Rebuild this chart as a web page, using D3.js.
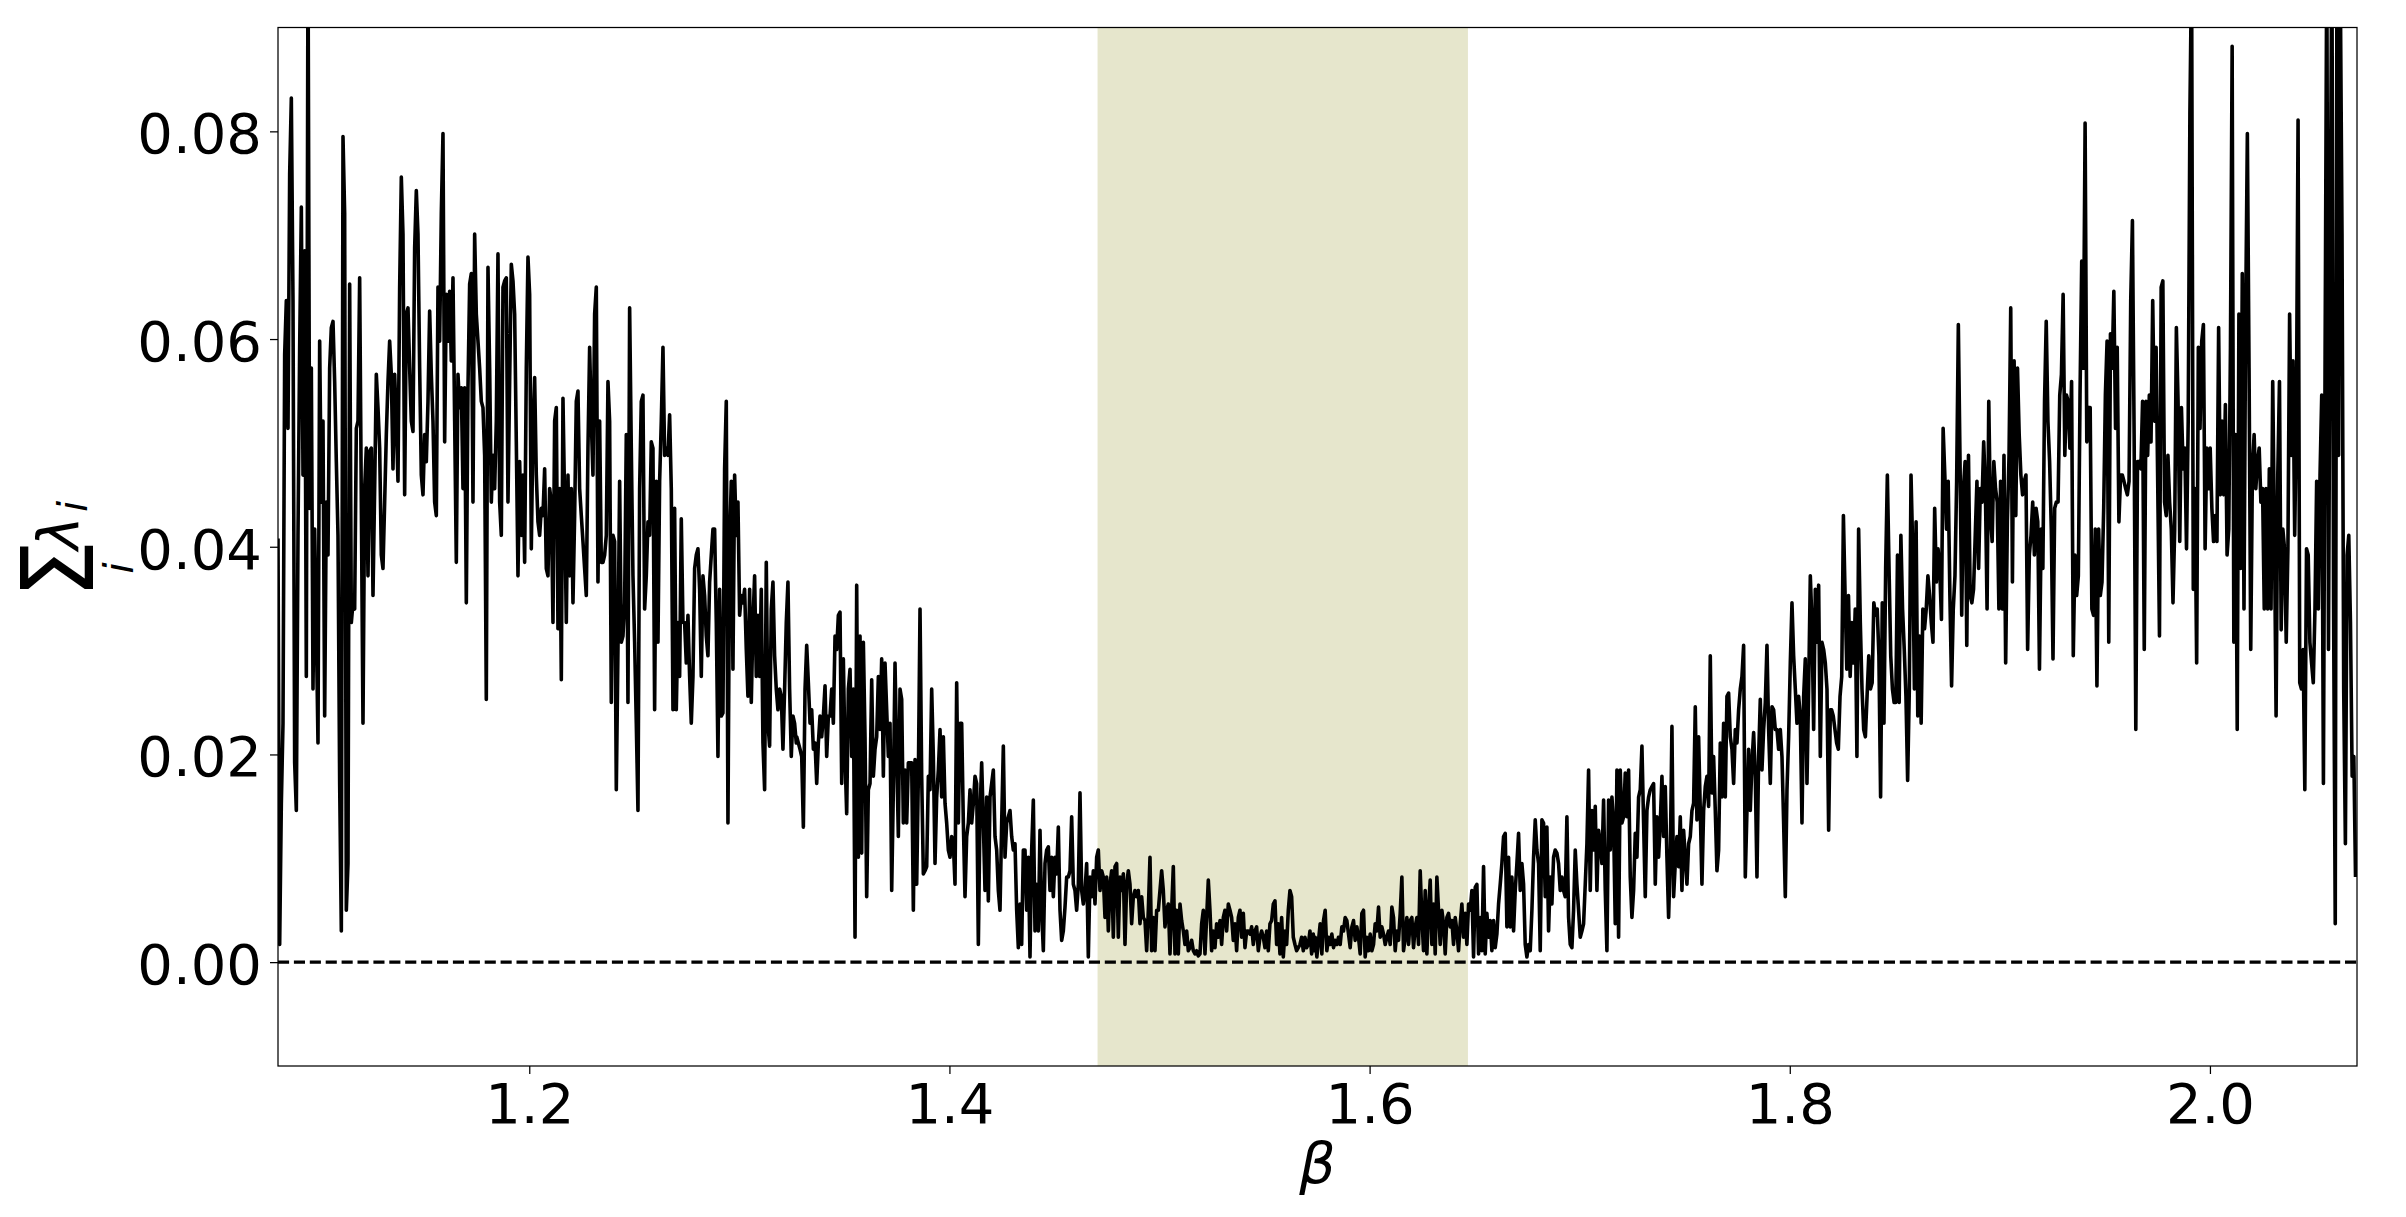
<!DOCTYPE html>
<html>
<head>
<meta charset="utf-8">
<script src="https://cdn.jsdelivr.net/npm/d3@7"></script>
<style>
html, body { margin: 0; padding: 0; background: #fff; }
svg { display: block; font-family: "DejaVu Sans", sans-serif; }
</style>
</head>
<body>
<div id="myDiv"></div>
<script>
// sum of lambda_i, in four consecutive beta ranges
var lambdaA = [
0.0408,0.0017,0.0153,0.0230,0.0585,0.0637,0.0514,0.0759,0.0832,0.0637,
0.0192,0.0146,0.0411,0.0592,0.0727,0.0469,0.0685,0.0275,0.0980,0.0437,
0.0572,0.0263,0.0417,0.0321,0.0211,0.0598,0.0443,0.0521,0.0237,0.0443,
0.0392,0.0572,0.0611,0.0617,0.0559,0.0482,0.0411,0.0172,0.0030,0.0795,
0.0721,0.0050,0.0095,0.0653,0.0327,0.0346,0.0340,0.0514,0.0521,0.0659,
0.0443,0.0230,0.0456,0.0495,0.0372,0.0492,0.0495,0.0353,0.0456,0.0566,
0.0534,0.0495,0.0392,0.0379,0.0443,0.0508,0.0559,0.0598,0.0566,0.0475,
0.0566,0.0521,0.0463,0.0650,0.0756,0.0701,0.0450,0.0624,0.0630,0.0572,
0.0521,0.0511,0.0688,0.0743,0.0701,0.0572,0.0469,0.0450,0.0508,0.0482,
0.0540,0.0627,0.0566,0.0521,0.0443,0.0430,0.0650,0.0598,0.0721,0.0798,
0.0501,0.0643,0.0598,0.0646,0.0579,0.0659,0.0521,0.0385,0.0566,0.0534,
0.0553,0.0456,0.0553,0.0346,0.0553,0.0653,0.0663,0.0443,0.0701,0.0624,
0.0598,0.0572,0.0540,0.0534,0.0488,0.0253,0.0669,0.0572,0.0443,0.0488,
0.0456,0.0521,0.0682,0.0443,0.0411,0.0650,0.0656,0.0659,0.0443,0.0559,
0.0672,0.0656,0.0624,0.0501,0.0372,0.0482,0.0411,0.0469,0.0385,0.0572,
0.0679,0.0643,0.0398,0.0514,0.0563,0.0469,0.0424,0.0411,0.0437,0.0430,
0.0475,0.0379,0.0372,0.0456,0.0443,0.0327,0.0521,0.0534,0.0321,0.0456,
0.0272,0.0543,0.0443,0.0327,0.0469,0.0372,0.0456,0.0346,0.0430,0.0540,
0.0550,0.0456,0.0430,0.0405,0.0379,0.0353,0.0495,0.0592,0.0521,0.0469,
0.0624,0.0650,0.0366,0.0521,0.0385,0.0385,0.0392,0.0411,0.0559,0.0521,
0.0250,0.0411,0.0405,0.0166,0.0301,0.0463,0.0308,0.0314,0.0346,0.0508,
0.0250,0.0630,0.0495,0.0372,0.0308,0.0230,0.0146,0.0456,0.0540,0.0546,
0.0340,0.0372,0.0424,0.0411,0.0501,0.0495,0.0243,0.0463,0.0308,0.0463,
0.0521,0.0592,0.0488,0.0495,0.0488,0.0527,0.0456,0.0243,0.0437,0.0243,
0.0327,0.0275,0.0427,0.0327,0.0327,0.0288,0.0334,0.0275,0.0230,0.0275,
0.0379,0.0392,0.0398,0.0359,0.0275,0.0372,0.0353,0.0314,0.0295,0.0366,
0.0392,0.0417,0.0417,0.0327,0.0198,0.0359,0.0237,0.0240,0.0475,0.0540,
0.0134,0.0405,0.0463,0.0282,0.0469,0.0411,0.0443,0.0334,0.0353,0.0346,
0.0359,0.0301,0.0256,0.0359,0.0250,0.0327,0.0372,0.0275,0.0334,0.0275,
0.0359,0.0211,0.0166,0.0385,0.0230,0.0208,0.0340,0.0366,0.0295,0.0263,
0.0243,0.0263,0.0256,0.0205,0.0263,0.0327,0.0366,0.0263,0.0198,0.0237,
0.0230,0.0211];

var lambdaB = [
0.0217,0.0211,0.0205,0.0198,0.0130,0.0263,0.0305,0.0269,0.0230,0.0243,
0.0205,0.0211,0.0172,0.0211,0.0237,0.0217,0.0237,0.0266,0.0198,0.0237,
0.0237,0.0263,0.0230,0.0314,0.0301,0.0334,0.0337,0.0172,0.0292,0.0198,
0.0143,0.0263,0.0282,0.0198,0.0263,0.0024,0.0363,0.0101,0.0314,0.0105,
0.0308,0.0217,0.0063,0.0166,0.0172,0.0272,0.0179,0.0205,0.0217,0.0275,
0.0224,0.0292,0.0179,0.0288,0.0243,0.0198,0.0230,0.0069,0.0166,0.0288,
0.0201,0.0121,0.0263,0.0253,0.0134,0.0185,0.0134,0.0192,0.0192,0.0192,
0.0050,0.0195,0.0075,0.0179,0.0340,0.0179,0.0085,0.0088,0.0092,0.0179,
0.0166,0.0263,0.0198,0.0095,0.0159,0.0185,0.0224,0.0159,0.0217,0.0153,
0.0134,0.0108,0.0101,0.0121,0.0114,0.0075,0.0269,0.0134,0.0230,0.0230,
0.0134,0.0063,0.0121,0.0134,0.0166,0.0134,0.0153,0.0179,0.0172,0.0017,
0.0143,0.0192,0.0134,0.0069,0.0159,0.0059,0.0159,0.0172,0.0185,0.0121,
0.0108,0.0069,0.0050,0.0134,0.0208,0.0101,0.0134,0.0140,0.0146,0.0121,
0.0108,0.0114,0.0050,0.0014,0.0056,0.0017,0.0108,0.0108,0.0050,0.0101,
0.0005,0.0108,0.0156,0.0030,0.0075,0.0030,0.0127,0.0050,0.0011,0.0095,
0.0108,0.0111,0.0069,0.0101,0.0063,0.0101,0.0085,0.0130,0.0050,0.0021,
0.0030,0.0053,0.0082,0.0082,0.0088,0.0140,0.0075,0.0069,0.0050,0.0075,
0.0163,0.0069,0.0056,0.0069,0.0095,0.0005,0.0082,0.0063,0.0088,0.0056,
0.0101,0.0108,0.0069,0.0088,0.0082,0.0043,0.0082,0.0030,0.0075,0.0088,
0.0024,0.0092,0.0095,0.0024,0.0082,0.0069,0.0085,0.0017,0.0075,0.0088,
0.0075,0.0037,0.0063,0.0069,0.0063,0.0069,0.0037,0.0063,0.0043,0.0040,
0.0011,0.0050,0.0101,0.0011,0.0043,0.0011,0.0050,0.0050,0.0069,0.0088,
0.0069,0.0034,0.0050,0.0056,0.0008,0.0050,0.0092,0.0008,0.0050,0.0008,
0.0056,0.0040,0.0030,0.0017,0.0030,0.0011,0.0014,0.0021,0.0011,0.0008,
0.0011,0.0006,0.0008,0.0037,0.0050,0.0008,0.0043,0.0079,0.0050,0.0011,
0.0030,0.0014,0.0037,0.0024,0.0040,0.0017,0.0043,0.0050,0.0030,0.0056,
0.0050,0.0043,0.0021,0.0037,0.0011,0.0043,0.0050,0.0024,0.0047,0.0014,
0.0030,0.0030,0.0027,0.0034,0.0017,0.0030,0.0034,0.0011,0.0024,0.0030,
0.0024,0.0014,0.0030,0.0011,0.0037,0.0040,0.0056,0.0059,0.0017,0.0037,
0.0008,0.0043,0.0005,0.0030,0.0017,0.0050,0.0069,0.0063,0.0024,0.0017,
0.0011,0.0014,0.0017,0.0024,0.0011,0.0024,0.0014,0.0017,0.0030,0.0008,
0.0027];

var lambdaC = [
0.0011,0.0024,0.0005,0.0021,0.0037,0.0008,0.0040,0.0050,0.0011,0.0024,
0.0017,0.0027,0.0014,0.0021,0.0017,0.0024,0.0017,0.0034,0.0030,0.0043,
0.0040,0.0027,0.0014,0.0034,0.0040,0.0021,0.0034,0.0024,0.0008,0.0047,
0.0050,0.0005,0.0024,0.0011,0.0027,0.0011,0.0017,0.0037,0.0030,0.0053,
0.0024,0.0034,0.0027,0.0017,0.0024,0.0030,0.0017,0.0053,0.0043,0.0011,
0.0030,0.0021,0.0047,0.0082,0.0011,0.0024,0.0043,0.0017,0.0040,0.0043,
0.0014,0.0034,0.0043,0.0017,0.0088,0.0043,0.0011,0.0069,0.0008,0.0050,
0.0079,0.0017,0.0056,0.0008,0.0082,0.0050,0.0017,0.0050,0.0037,0.0008,
0.0043,0.0047,0.0034,0.0040,0.0017,0.0043,0.0030,0.0011,0.0037,0.0056,
0.0024,0.0047,0.0017,0.0056,0.0050,0.0069,0.0005,0.0072,0.0075,0.0008,
0.0043,0.0011,0.0092,0.0008,0.0047,0.0024,0.0040,0.0011,0.0040,0.0014,
0.0027,0.0056,0.0075,0.0095,0.0121,0.0124,0.0034,0.0101,0.0034,0.0082,
0.0030,0.0069,0.0095,0.0124,0.0069,0.0095,0.0075,0.0017,0.0005,0.0017,
0.0011,0.0050,0.0101,0.0137,0.0108,0.0095,0.0011,0.0137,0.0134,0.0063,
0.0130,0.0030,0.0082,0.0056,0.0101,0.0108,0.0105,0.0095,0.0069,0.0082,
0.0069,0.0063,0.0140,0.0043,0.0017,0.0014,0.0050,0.0108,0.0075,0.0050,
0.0024,0.0030,0.0037,0.0075,0.0114,0.0185,0.0069,0.0146,0.0108,0.0150,
0.0069,0.0127,0.0114,0.0095,0.0156,0.0069,0.0011,0.0156,0.0108,0.0159,
0.0134,0.0037,0.0185,0.0024,0.0185,0.0134,0.0140,0.0182,0.0140,0.0185,
0.0082,0.0043,0.0069,0.0124,0.0101,0.0159,0.0166,0.0208,0.0134,0.0063,
0.0146,0.0159,0.0166,0.0169,0.0172,0.0075,0.0140,0.0101,0.0134,0.0179,
0.0121,0.0169,0.0101,0.0043,0.0101,0.0227,0.0063,0.0095,0.0121,0.0092,
0.0140,0.0069,0.0127,0.0101,0.0075,0.0114,0.0121,0.0146,0.0153,0.0246,
0.0137,0.0217,0.0146,0.0075,0.0146,0.0169,0.0179,0.0150,0.0295,0.0163,
0.0198,0.0146,0.0088,0.0108,0.0211,0.0159,0.0230,0.0159,0.0256,0.0259,
0.0217,0.0205,0.0172,0.0224,0.0211,0.0243,0.0263,0.0275,0.0305,0.0082,
0.0146,0.0205,0.0146,0.0192,0.0221,0.0179,0.0082,0.0198,0.0253,0.0185,
0.0224,0.0250,0.0305,0.0224,0.0172,0.0246,0.0243,0.0224,0.0224,0.0205,
0.0224,0.0198,0.0134,0.0063,0.0166,0.0217,0.0288,0.0346,0.0295,0.0263,
0.0230,0.0256,0.0237,0.0134,0.0256,0.0292,0.0172,0.0263,0.0372,0.0327,
0.0224,0.0359,0.0308,0.0363,0.0198,0.0308,0.0301,0.0288,0.0263,0.0127,
0.0243];

var lambdaD = [
0.0243,0.0237,0.0224,0.0211,0.0205,0.0256,0.0275,0.0430,0.0353,0.0282,
0.0353,0.0275,0.0327,0.0288,0.0340,0.0198,0.0417,0.0327,0.0263,0.0224,
0.0217,0.0256,0.0295,0.0263,0.0269,0.0346,0.0334,0.0340,0.0295,0.0159,
0.0346,0.0230,0.0379,0.0469,0.0379,0.0295,0.0263,0.0250,0.0250,0.0392,
0.0250,0.0411,0.0340,0.0301,0.0256,0.0175,0.0263,0.0469,0.0398,0.0263,
0.0424,0.0237,0.0314,0.0230,0.0340,0.0321,0.0340,0.0372,0.0353,0.0327,
0.0308,0.0437,0.0366,0.0398,0.0379,0.0330,0.0514,0.0469,0.0417,0.0463,
0.0353,0.0266,0.0340,0.0372,0.0463,0.0614,0.0482,0.0334,0.0456,0.0482,
0.0305,0.0488,0.0353,0.0346,0.0359,0.0411,0.0463,0.0379,0.0456,0.0443,
0.0501,0.0456,0.0340,0.0540,0.0430,0.0405,0.0482,0.0456,0.0443,0.0340,
0.0463,0.0340,0.0488,0.0288,0.0424,0.0488,0.0630,0.0366,0.0579,0.0430,
0.0572,0.0508,0.0469,0.0450,0.0463,0.0469,0.0301,0.0392,0.0411,0.0443,
0.0392,0.0437,0.0424,0.0282,0.0417,0.0379,0.0540,0.0617,0.0521,0.0482,
0.0417,0.0292,0.0437,0.0443,0.0443,0.0546,0.0566,0.0643,0.0488,0.0546,
0.0540,0.0495,0.0559,0.0295,0.0392,0.0353,0.0372,0.0546,0.0675,0.0572,
0.0808,0.0501,0.0534,0.0534,0.0340,0.0334,0.0417,0.0266,0.0417,0.0353,
0.0366,0.0437,0.0546,0.0598,0.0308,0.0605,0.0572,0.0646,0.0514,0.0592,
0.0424,0.0469,0.0469,0.0463,0.0456,0.0450,0.0463,0.0637,0.0714,0.0508,
0.0224,0.0482,0.0482,0.0475,0.0540,0.0301,0.0540,0.0488,0.0546,0.0501,
0.0637,0.0521,0.0592,0.0456,0.0314,0.0650,0.0656,0.0443,0.0430,0.0488,
0.0443,0.0417,0.0346,0.0417,0.0611,0.0540,0.0405,0.0534,0.0475,0.0495,
0.0398,0.0521,0.0817,0.0960,0.0359,0.0456,0.0288,0.0592,0.0514,0.0598,
0.0614,0.0398,0.0495,0.0456,0.0495,0.0437,0.0405,0.0430,0.0405,0.0611,
0.0450,0.0521,0.0450,0.0537,0.0392,0.0417,0.0592,0.0882,0.0308,0.0508,
0.0224,0.0624,0.0379,0.0663,0.0340,0.0624,0.0798,0.0572,0.0301,0.0475,
0.0508,0.0456,0.0482,0.0495,0.0443,0.0456,0.0340,0.0456,0.0340,0.0475,
0.0340,0.0559,0.0417,0.0237,0.0469,0.0559,0.0320,0.0417,0.0398,0.0308,
0.0398,0.0624,0.0488,0.0579,0.0411,0.0521,0.0811,0.0269,0.0263,0.0301,
0.0166,0.0398,0.0392,0.0308,0.0288,0.0269,0.0340,0.0463,0.0340,0.0469,
0.0546,0.0172,0.0585,0.0980,0.0301,0.0675,0.0990,0.0346,0.0037,0.0970,
0.0488,0.0940,0.0701,0.0263,0.0114,0.0392,0.0411,0.0327,0.0179,0.0198,
0.0082];

// beta range covered by each array (first and last sample)
var segments = [
  {from: 1.0804, to: 1.3271, values: lambdaA},
  {from: 1.3273, to: 1.5732, values: lambdaB},
  {from: 1.5733, to: 1.8193, values: lambdaC},
  {from: 1.8199, to: 2.0693, values: lambdaD}
];

var betaTicks = [1.2, 1.4, 1.6, 1.8, 2.0];
var lambdaTicks = [0.00, 0.02, 0.04, 0.06, 0.08];
var stableBand = [1.4705, 1.6468];

var data = [];
segments.forEach(function(s) {
  var n = s.values.length;
  s.values.forEach(function(v, i) {
    data.push({beta: s.from + i * (s.to - s.from) / (n - 1), lambda: v});
  });
});

var width = 2406, height = 1217;
var margin = {top: 27.5, right: 49, bottom: 151, left: 278};
var w = width - margin.left - margin.right;
var h = height - margin.top - margin.bottom;

var svg = d3.select("#myDiv").append("svg")
    .attr("width", width)
    .attr("height", height);

var g = svg.append("g")
    .attr("transform", "translate(" + margin.left + "," + margin.top + ")");

var x = d3.scaleLinear().domain([1.0804, 2.07]).range([0, w]);
var y = d3.scaleLinear().domain([-0.01, 0.09]).range([h, 0]);

svg.append("defs").append("clipPath")
    .attr("id", "plotClip")
  .append("rect")
    .attr("width", w)
    .attr("height", h);

// shaded beta window
g.append("rect")
    .attr("x", x(stableBand[0]))
    .attr("y", 0)
    .attr("width", x(stableBand[1]) - x(stableBand[0]))
    .attr("height", h)
    .attr("fill", "#e6e6cc");

g.append("line")
    .attr("x1", 0)
    .attr("x2", w)
    .attr("y1", y(0))
    .attr("y2", y(0))
    .attr("stroke", "#000")
    .attr("stroke-width", 3.2)
    .attr("stroke-dasharray", "11.1,4.8");

var line = d3.line()
    .x(function(d) { return x(d.beta); })
    .y(function(d) { return y(d.lambda); });

g.append("path")
    .datum(data)
    .attr("clip-path", "url(#plotClip)")
    .attr("d", line)
    .attr("fill", "none")
    .attr("stroke", "#000")
    .attr("stroke-width", 3.6)
    .attr("stroke-linejoin", "round");

var xAxis = g.append("g")
    .attr("transform", "translate(0," + h + ")")
    .call(d3.axisBottom(x).tickValues(betaTicks).tickFormat(d3.format(".1f"))
      .tickSize(8).tickSizeOuter(0).tickPadding(9));

var yAxis = g.append("g")
    .call(d3.axisLeft(y).tickValues(lambdaTicks).tickFormat(d3.format(".2f"))
      .tickSize(8).tickSizeOuter(0).tickPadding(8));

[xAxis, yAxis].forEach(function(a) {
  a.select(".domain").remove();
  a.selectAll(".tick line").attr("stroke", "#000").attr("stroke-width", 1.25);
  a.selectAll(".tick text")
      .attr("fill", "#000")
      .style("font-family", "'DejaVu Sans'")
      .style("font-size", "56px");
});
yAxis.selectAll(".tick text").attr("dy", "0.38em");

// axes frame
g.append("rect")
    .attr("width", w)
    .attr("height", h)
    .attr("fill", "none")
    .attr("stroke", "#000")
    .attr("stroke-width", 1.25);

// x label
svg.append("text")
    .attr("x", margin.left + w / 2)
    .attr("y", 1183)
    .attr("text-anchor", "middle")
    .style("font-size", "57px")
    .style("font-style", "italic")
    .text("β");

// y label: sum over i of lambda_i, rotated
var yl = svg.append("g")
    .attr("transform", "translate(78,595) rotate(-90)");

yl.append("text")
    .attr("transform", "translate(-3,15) scale(0.93,1)")
    .style("font-size", "99px")
    .text("Σ");

yl.append("text")
    .attr("x", 27)
    .attr("y", 55)
    .attr("text-anchor", "middle")
    .style("font-size", "41px")
    .style("font-style", "italic")
    .text("i");

yl.append("text")
    .attr("x", 45)
    .attr("y", 0)
    .style("font-size", "57px")
    .style("font-style", "italic")
    .text("λ");

yl.append("text")
    .attr("x", 83)
    .attr("y", 9)
    .style("font-size", "40px")
    .style("font-style", "italic")
    .text("i");
</script>
</body>
</html>
